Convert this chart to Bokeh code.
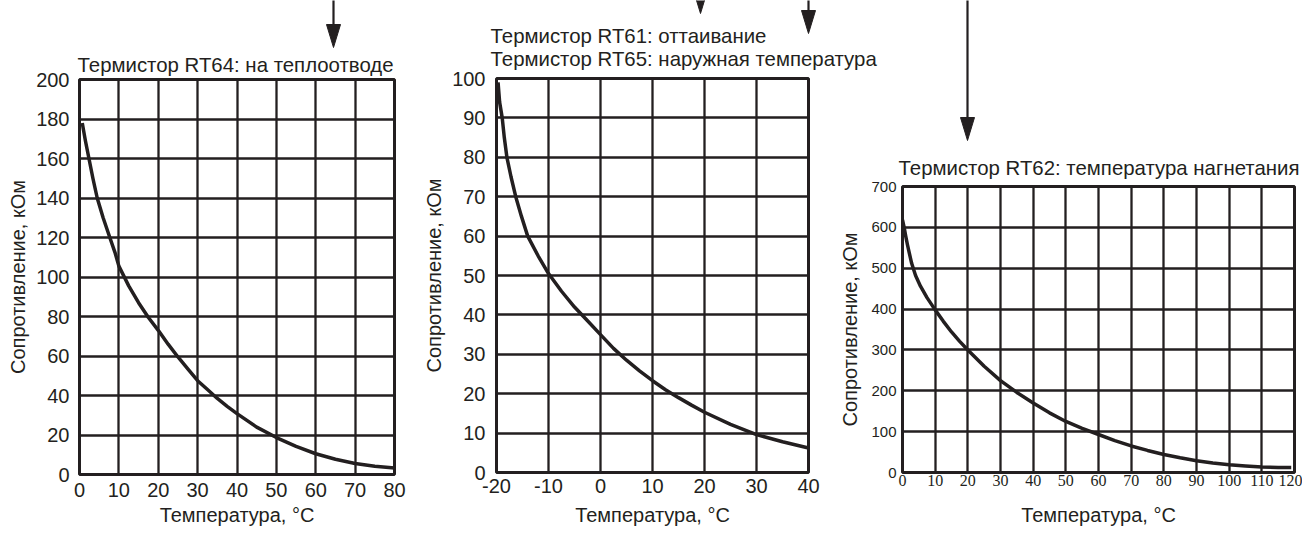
from bokeh.plotting import figure
from bokeh.models import Range1d, SingleIntervalTicker, PrintfTickFormatter
from bokeh.core.properties import value
from bokeh.embed import file_html
from bokeh.resources import INLINE

INK = "#231f20"
FONT = "Liberation Sans"

# ---- data ----
rt64_temp = [0.7, 1.5, 2.4, 3.4, 4.5, 6, 7.7, 9, 10, 12.5, 15, 17.5, 20, 22.5, 25, 27.5, 30,
             32.5, 35, 37.5, 40, 45, 50, 55, 60, 65, 70, 75, 80]
rt64_res = [178, 169, 160, 150, 140, 130, 120, 112.5, 105.5, 95.5, 87, 79.5, 73, 66, 59.5, 53.5,
            47.5, 43, 38.5, 34.5, 30.8, 24, 18.7, 14.2, 10.5, 7.7, 5.6, 4.2, 3.3]

rt61_temp = [-19.7, -19.4, -18.9, -18.5, -18.0, -17.2, -16.3, -15.2, -14, -12, -10, -7.5, -5,
             -2.5, 0, 2.5, 5, 7.5, 10, 12.5, 15, 17.5, 20, 25, 30, 35, 40]
rt61_res = [99, 94, 90, 85, 80, 75, 70, 65, 60, 55, 50.5, 46, 42, 38.5, 35, 31.5, 28.5, 25.8,
            23.3, 21, 19, 17.1, 15.3, 12.2, 9.6, 7.8, 6.2]

rt62_temp = [0, 0.5, 1, 1.5, 2, 2.8, 4, 5.5, 7.5, 10, 12.5, 15, 17.5, 20, 25, 30, 35, 40, 45, 50,
             55, 60, 65, 70, 75, 80, 85, 90, 95, 100, 105, 110, 115, 119]
rt62_res = [618, 600, 578, 558, 540, 512, 482, 456, 428, 398, 370, 344, 321, 300, 260, 225, 196,
            170, 146, 125, 108, 93, 78, 65, 54, 44, 36, 29, 23, 19, 16, 13.5, 12.5, 12.5]

title_texts = ["Термистор RT64: на теплоотводе",
               "Термистор RT61: оттаивание",
               "Термистор RT65: наружная температура",
               "Термистор RT62: температура нагнетания"]
x_label = "Температура, °C"
y_label = "Сопротивление, кОм"

# page-pixel placement of the titles (left, baseline) and of the pointer arrows
title_x = [77, 490, 490, 898]
title_y = [64, 35.5, 58.5, 167]
arrow_x = [333, 700, 808, 967]
arrow_tip = [47, 13, 33, 140]

TEMPLATE = """
{% block postamble %}
<style>
  html, body { margin: 0 !important; padding: 0 !important; }
  body { display: flex !important; flex-direction: row; align-items: flex-start; }
  .overlay-fig, body > div:nth-of-type(4) > div {
    position: absolute !important; left: 0 !important; top: 0 !important; z-index: 10;
  }
</style>
{% endblock %}
"""


def panel(width, height, xr, yr, xstep, ystep, bl, br, bt, bb,
          tick_size="20px", xtick_font=FONT, xtick_size="20px",
          xstand=8, ystand=10, xlab_stand=4, ylab_stand=4):
    p = figure(width=width, height=height, x_range=Range1d(*xr), y_range=Range1d(*yr),
               output_backend="svg", toolbar_location=None, title=None,
               min_border_left=bl, min_border_right=br, min_border_top=bt, min_border_bottom=bb)
    p.background_fill_color = "white"
    p.border_fill_color = "white"
    p.outline_line_color = INK
    p.outline_line_width = 3
    p.outline_line_alpha = 1
    xt = SingleIntervalTicker(interval=xstep)
    yt = SingleIntervalTicker(interval=ystep)
    p.xaxis.ticker = xt
    p.yaxis.ticker = yt
    p.xgrid.ticker = xt
    p.ygrid.ticker = yt
    p.xaxis.formatter = PrintfTickFormatter(format="%d")
    p.yaxis.formatter = PrintfTickFormatter(format="%d")
    for g in (p.xgrid, p.ygrid):
        g.grid_line_color = INK
        g.grid_line_width = 2.3
        g.grid_line_alpha = 1
    for ax in (p.xaxis, p.yaxis):
        ax.axis_line_color = None
        ax.major_tick_line_color = None
        ax.minor_tick_line_color = None
        ax.major_tick_out = 0
        ax.major_tick_in = 0
        ax.minor_tick_out = 0
        ax.axis_label_text_font = FONT
        ax.axis_label_text_font_size = "20px"
        ax.axis_label_text_font_style = "normal"
        ax.axis_label_text_color = INK
        ax.major_label_text_color = INK
    p.yaxis.major_label_text_font = FONT
    p.yaxis.major_label_text_font_size = tick_size
    p.xaxis.major_label_text_font = xtick_font
    p.xaxis.major_label_text_font_size = xtick_size
    p.xaxis.major_label_standoff = xstand
    p.yaxis.major_label_standoff = ystand
    p.xaxis.axis_label_standoff = xlab_stand
    p.yaxis.axis_label_standoff = ylab_stand
    p.xaxis.axis_label = x_label
    p.yaxis.axis_label = y_label
    return p


# Panel 1: RT64  (frame 315 x 395)
p1 = panel(420, 540, (0, 80), (0, 200), 10, 20, 79, 26, 79, 66)
p1.line(rt64_temp, rt64_res, line_width=3.5, line_color=INK, line_join="round")

# Panel 2: RT61 / RT65  (frame 316 x 394)
p2 = panel(416, 540, (-20, 40), (0, 100), 10, 10, 72, 28, 78, 68, xstand=6, ystand=11, xlab_stand=8)
p2.line(rt61_temp, rt61_res, line_width=3.5, line_color=INK, line_join="round")

# Panel 3: RT62  (frame 394 x 286)
p3 = panel(466, 540, (0, 120), (0, 700), 10, 100, 64, 8, 186, 68,
           tick_size="15px", xtick_font="Liberation Sans Narrow", xtick_size="16px",
           xstand=2, ystand=6, xlab_stand=15, ylab_stand=7)
p3.line(rt62_temp, rt62_res, line_width=3.5, line_color=INK, line_join="round")

# Transparent overlay in page pixels: titles and pointer arrows above the panels
ov = figure(width=1303, height=540, x_range=Range1d(0, 1303), y_range=Range1d(540, 0),
            output_backend="svg", toolbar_location=None, title=None,
            x_axis_type=None, y_axis_type=None,
            min_border_left=0, min_border_right=0, min_border_top=0, min_border_bottom=0)
ov.grid.visible = False
ov.background_fill_color = None
ov.border_fill_color = None
ov.outline_line_color = None
ov.css_classes = ["overlay-fig"]

ov.text(x=title_x, y=title_y, text=title_texts, text_font=value(FONT), text_font_size="20.4px",
        text_color=INK, text_align="left", text_baseline="alphabetic")

HEAD_LEN, HEAD_HALF = 23, 7
ov.segment(x0=arrow_x, y0=[-5] * len(arrow_x), x1=arrow_x,
           y1=[t - HEAD_LEN + 4 for t in arrow_tip], line_color=INK, line_width=2.2)
ov.patches(xs=[[x - HEAD_HALF, x + HEAD_HALF, x] for x in arrow_x],
           ys=[[t - HEAD_LEN, t - HEAD_LEN, t] for t in arrow_tip],
           fill_color=INK, line_color=INK, line_width=1)

open("out.html", "w").write(file_html([p1, p2, p3, ov], INLINE, template=TEMPLATE))
